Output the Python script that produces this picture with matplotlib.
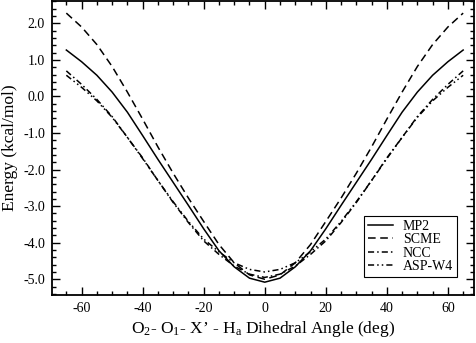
import numpy as np
import matplotlib
matplotlib.use("Agg")
import matplotlib.pyplot as plt
from matplotlib.ticker import MultipleLocator, FormatStrFormatter

plt.rcParams['font.family'] = ['Liberation Serif', 'DejaVu Serif']
plt.rcParams['mathtext.fontset'] = 'custom'
plt.rcParams['mathtext.rm'] = 'Liberation Serif'
plt.rcParams['mathtext.it'] = 'Liberation Serif:italic'
plt.rcParams['axes.unicode_minus'] = False

# dihedral angle (deg)
angle = [-65, -60, -55, -50, -45, -40, -35, -30, -25, -20, -15, -10, -5, 0,
         5, 10, 15, 20, 25, 30, 35, 40, 45, 50, 55, 60, 65]

# energies (kcal/mol)
mp2 = [1.27, 0.95, 0.58, 0.12, -0.43, -1.07, -1.72, -2.35, -2.98, -3.62, -4.22, -4.66, -4.97, -5.08,
       -4.97, -4.66, -4.22, -3.62, -2.98, -2.35, -1.72, -1.07, -0.43, 0.12, 0.58, 0.95, 1.27]
scme = [2.28, 1.90, 1.42, 0.82, 0.12, -0.62, -1.38, -2.10, -2.78, -3.42, -4.05, -4.55, -4.88, -5.00,
        -4.88, -4.55, -4.05, -3.42, -2.78, -2.10, -1.38, -0.62, 0.12, 0.82, 1.42, 1.90, 2.28]
ncc = [0.70, 0.33, -0.08, -0.55, -1.12, -1.68, -2.30, -2.90, -3.45, -3.95, -4.32, -4.64, -4.86, -4.95,
       -4.86, -4.64, -4.32, -3.95, -3.45, -2.90, -2.30, -1.68, -1.12, -0.55, -0.08, 0.33, 0.70]
asp = [0.58, 0.25, -0.12, -0.57, -1.12, -1.70, -2.30, -2.88, -3.42, -3.90, -4.25, -4.55, -4.73, -4.80,
       -4.73, -4.55, -4.25, -3.90, -3.42, -2.88, -2.30, -1.70, -1.12, -0.57, -0.12, 0.25, 0.58]

fig = plt.figure(figsize=(4.77, 3.43), dpi=100)
ax = fig.add_axes([0.109, 0.14, 0.885, 0.858])

lw = 1.1
ax.plot(angle, mp2, color='black', lw=lw, ls='-', label='MP2')
ax.plot(angle, scme, color='black', lw=lw, ls=(0, (5, 3)), label='SCME')
ax.plot(angle, ncc, color='black', lw=lw, ls=(0, (4, 2, 1, 2)), label='NCC')
ax.plot(angle, asp, color='black', lw=lw, ls=(0, (4, 2, 1, 2, 1, 2)), label='ASP-W4')

ax.set_xlim(-69.7, 68.6)
ax.set_ylim(-5.43, 2.62)
ax.xaxis.set_major_locator(MultipleLocator(20))
ax.xaxis.set_minor_locator(MultipleLocator(5))
ax.yaxis.set_major_locator(MultipleLocator(1.0))
ax.yaxis.set_minor_locator(MultipleLocator(0.2))
ax.yaxis.set_major_formatter(FormatStrFormatter('%.1f'))

ax.tick_params(which='both', direction='in', top=True, right=True, labelsize=10, width=1)
ax.tick_params(which='major', length=6, pad=5)
ax.tick_params(which='minor', length=3)
for s in ax.spines.values():
    s.set_linewidth(1.3)

ax.set_ylabel('Energy (kcal/mol)', fontsize=12.5, labelpad=4)
ax.set_xlabel("O$_2$- O$_1$- X\u2019 - H$_\\mathrm{a}$ Dihedral Angle (deg)", fontsize=12.5, labelpad=3)

leg = ax.legend(loc='lower right', bbox_to_anchor=(0.96, 0.061), borderaxespad=0,
                fontsize=10, frameon=True, fancybox=False,
                edgecolor='black', framealpha=1, labelspacing=0.02, handlelength=1.8,
                handletextpad=0.72, borderpad=0.3)
leg.get_frame().set_linewidth(0.8)

fig.savefig('out.png', dpi=100)
